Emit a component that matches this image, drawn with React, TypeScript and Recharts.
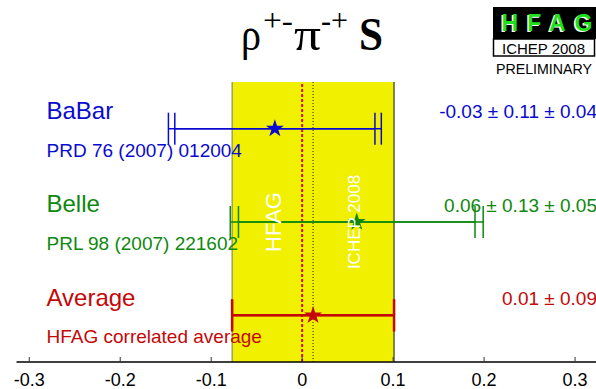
import React from "react";
import {
  ComposedChart,
  Scatter,
  ErrorBar,
  XAxis,
  YAxis,
  ReferenceArea,
  ReferenceLine,
  Symbols,
} from "recharts";

// measurements, top to bottom
const experiments = ["BaBar", "Belle", "Average"];
const references = ["PRD 76 (2007) 012004", "PRL 98 (2007) 221602", "HFAG correlated average"];
const centralValues = [-0.03, 0.06, 0.012];
const statErrors = [0.11, 0.13, 0.089];
const totalErrors = [0.117, 0.139, 0.089];
const resultLabels = ["-0.03 \u00b1 0.11 \u00b1 0.04", "0.06 \u00b1 0.13 \u00b1 0.05", "0.01 \u00b1 0.09"];
const rowPositions = [0.5, 1.5, 2.5];
const xTicks = [-0.3, -0.2, -0.1, 0, 0.1, 0.2, 0.3];
const averageBand = [-0.077, 0.101];

const COLORS = ["#0a0ad0", "#0e880e", "#c40808"];
const YELLOW = "#f0f000";
const SANS = "'Liberation Sans', Arial, sans-serif";
const SERIF = "'Liberation Serif', 'Times New Roman', serif";

const W = 596;
const H = 389;
const PLOT_TOP = 82;
const PLOT_H = 280;

const rowY = (i: number) => PLOT_TOP + (PLOT_H * rowPositions[i]) / 3;

const rows = experiments.map((name, i) => ({
  name,
  x: centralValues[i],
  y: rowPositions[i],
  stat: statErrors[i],
  total: totalErrors[i],
}));

export default function App() {
  return (
    <div style={{ position: "absolute", left: 0, top: 0, width: W, height: H, background: "#fff" }}>
      <ComposedChart width={W} height={H} margin={{ top: PLOT_TOP, right: 0, bottom: 0, left: 16.5 }}>
        <ReferenceArea
          x1={averageBand[0]}
          x2={averageBand[1]}
          y1={0}
          y2={3}
          fill={YELLOW}
          fillOpacity={1}
          stroke="none"
        />
        <ReferenceLine x={averageBand[0]} stroke="#7a7a50" strokeWidth={1} />
        <ReferenceLine x={averageBand[1]} stroke="#111" strokeWidth={1} />
        <ReferenceLine x={0} stroke="#cc1010" strokeWidth={2} strokeDasharray="3 2" />
        <ReferenceLine x={centralValues[2]} stroke="#222" strokeWidth={1} strokeDasharray="1 2" />
        <ReferenceLine
          x={-0.032}
          stroke="none"
          label={{ value: "HFAG", angle: -90, position: "center", fill: "#fff", fontSize: 22, fontFamily: SANS }}
        />
        <ReferenceLine
          x={0.0575}
          stroke="none"
          label={{ value: "ICHEP 2008", angle: -90, position: "center", fill: "#fff", fontSize: 17, fontFamily: SANS }}
        />
        <XAxis
          xAxisId={0}
          type="number"
          dataKey="x"
          domain={[-0.314, 0.323]}
          ticks={xTicks}
          allowDataOverflow
          height={27}
          tickSize={-5}
          tickMargin={16}
          axisLine={{ stroke: "#000", strokeWidth: 1.5 }}
          tickLine={{ stroke: "#333" }}
          tick={{ fill: "#000", fontSize: 18, fontFamily: SANS }}
        />
        <XAxis
          xAxisId="top"
          orientation="top"
          type="number"
          dataKey="x"
          domain={[-0.314, 0.323]}
          ticks={xTicks}
          allowDataOverflow
          height={0}
          tickSize={-4}
          tick={false}
          axisLine={{ stroke: "#777", strokeWidth: 1 }}
          tickLine={{ stroke: "#555" }}
        />
        <YAxis
          type="number"
          dataKey="y"
          domain={[0, 3]}
          reversed
          width={0}
          tick={false}
          tickLine={false}
          axisLine={{ stroke: "#666", strokeWidth: 1 }}
        />
        {rows.map((r, i) => (
          <Scatter
            key={r.name}
            data={[r]}
            fill={COLORS[i]}
            shape={(p: any) => (
              <Symbols type="star" cx={p.cx} cy={p.cy} size={100} fill={COLORS[i]} />
            )}
            isAnimationActive={false}
          >
            <ErrorBar
              dataKey="total"
              direction="x"
              width={16}
              stroke={COLORS[i]}
              strokeWidth={i === 2 ? 2 : 1.5}
              isAnimationActive={false}
            />
            <ErrorBar
              dataKey="stat"
              direction="x"
              width={16}
              stroke={COLORS[i]}
              strokeWidth={i === 2 ? 2.5 : 1.5}
              isAnimationActive={false}
            />
          </Scatter>
        ))}
      </ComposedChart>

      <svg
        width={W}
        height={H}
        style={{ position: "absolute", left: 0, top: 0, pointerEvents: "none" }}
      >
        {/* title */}
        <g fontFamily={SERIF} fill="#000">
          <text x={241} y={50} fontSize={46} textLength={20} lengthAdjust="spacingAndGlyphs">ρ</text>
          <text x={263} y={31} fontSize={32} textLength={30} lengthAdjust="spacingAndGlyphs">+-</text>
          <text x={294} y={50} fontSize={46} textLength={27} lengthAdjust="spacingAndGlyphs">π</text>
          <text x={321} y={31} fontSize={32} textLength={27} lengthAdjust="spacingAndGlyphs">-+</text>
          <text x={359} y={50} fontSize={46} fontWeight="bold" textLength={24} lengthAdjust="spacingAndGlyphs">S</text>
        </g>

        {/* HFAG logo */}
        <rect x={493} y={7} width={103} height={32} fill="#000" />
        <text x={500} y={32} fontFamily={SANS} fontWeight="bold" fontSize={23} fill="#fff" textLength={91} lengthAdjust="spacing">HFAG</text>
        <text x={501.5} y={31} fontFamily={SANS} fontWeight="bold" fontSize={23} fill="#1ee01e" textLength={91} lengthAdjust="spacing">HFAG</text>
        <rect x={493.5} y={39} width={101} height={17} fill="#fff" stroke="#000" strokeWidth={1.5} />
        <text x={502} y={53.5} fontFamily={SANS} fontSize={15} fill="#000" textLength={83} lengthAdjust="spacingAndGlyphs">ICHEP 2008</text>
        <text x={496} y={74} fontFamily={SANS} fontSize={15} fill="#000" textLength={96} lengthAdjust="spacingAndGlyphs">PRELIMINARY</text>

        {/* row labels */}
        {experiments.map((name, i) => (
          <g key={name} fontFamily={SANS} fill={COLORS[i]}>
            <text x={46.5} y={rowY(i) - 9.7} fontSize={24}>{name}</text>
            <text x={46.5} y={rowY(i) + 28} fontSize={19}>{references[i]}</text>
            <text x={597} y={rowY(i) - 10.3} fontSize={19} textAnchor="end">{resultLabels[i]}</text>
          </g>
        ))}
      </svg>
    </div>
  );
}
